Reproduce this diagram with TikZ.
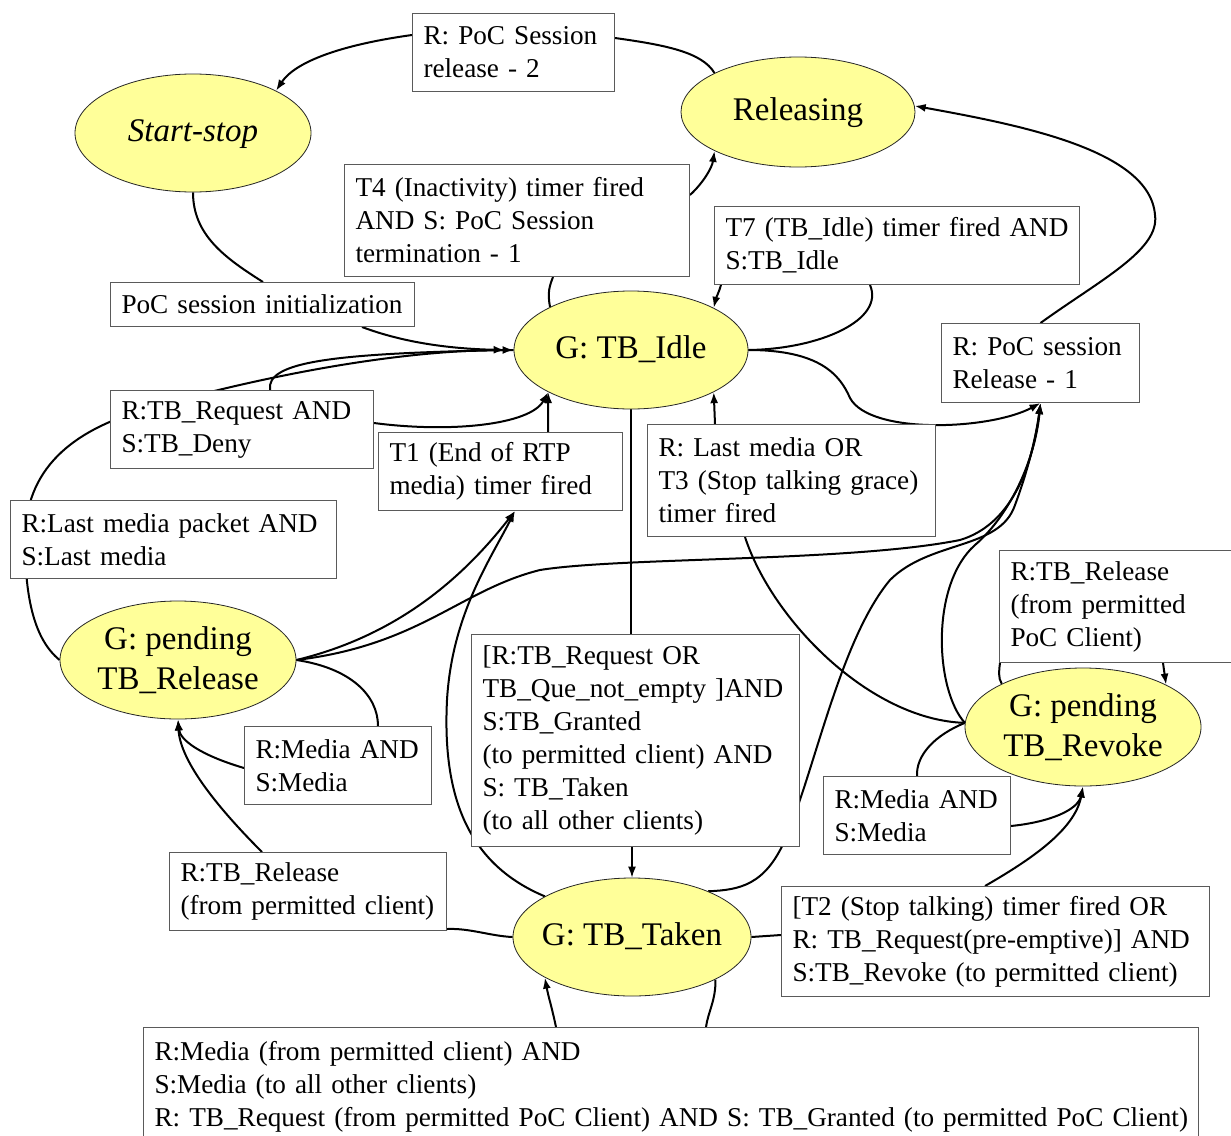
\documentclass[tikz,border=0pt]{standalone}
\usepackage{fontspec}
\setmainfont{Liberation Serif}
\usetikzlibrary{shapes.geometric,arrows.meta,calc}
\pgfdeclarelayer{bg}
\pgfsetlayers{bg,main}
\definecolor{stateyellow}{RGB}{255,255,153}
\definecolor{boxline}{RGB}{90,90,90}
\newcommand\boxfont{\fontsize{27.2}{33}\selectfont}
\newcommand\statefont{\fontsize{33}{40}\selectfont}
\tikzset{
  lbox/.style={draw=boxline, line width=1pt, fill=white, anchor=north west, align=left,
    inner xsep=11pt, inner ysep=0pt, font=\boxfont},
  state/.style={ellipse, draw=black!85, line width=0.8pt, fill=stateyellow, font=\statefont,
    align=center, inner sep=-14pt},
  conn/.style={line width=2pt},
  arr/.style={conn, -{Latex[length=11pt,width=8pt]}}
}
\begin{document}
\begin{tikzpicture}[x=1pt,y=-1pt]
\useasboundingbox (0,0) rectangle (1231,1135);
% states
\node[state, minimum width=236, minimum height=118] (startstop) at (193,133) {\itshape Start-stop\strut};
\node[state, minimum width=234, minimum height=110] (releasing) at (798,112) {Releasing\strut};
\node[state, minimum width=234, minimum height=118] (idle) at (631,350) {G: TB\_Idle\strut};
\node[state, minimum width=236, minimum height=118] (pendrel) at (178,660) {G: pending\\TB\_Release};
\node[state, minimum width=236, minimum height=118] (pendrev) at (1083,727) {G: pending\\TB\_Revoke};
\node[state, minimum width=238, minimum height=118] (taken) at (632,937) {G: TB\_Taken\strut};
% label boxes
\node[lbox, minimum width=202, minimum height=78, text width=180] (relsess2) at (412,13)
  {\mbox{R: PoC Session}\\\mbox{release - 2}};
\node[lbox, minimum width=345, minimum height=112, text width=323] (t4) at (344,164)
  {\mbox{T4 (Inactivity) timer fired}\\\mbox{AND S: PoC Session}\\\mbox{termination - 1}};
\node[lbox, minimum width=304, minimum height=44, text width=282] (init) at (110,282)
  {\mbox{PoC session initialization}};
\node[lbox, minimum width=365, minimum height=78, text width=343] (t7) at (714,206)
  {\mbox{T7 (TB\_Idle) timer fired AND}\\\mbox{S:TB\_Idle}};
\node[lbox, minimum width=198, minimum height=79, text width=176] (rel1) at (941,323)
  {\mbox{R: PoC session}\\\mbox{Release - 1}};
\node[lbox, minimum width=263, minimum height=78, text width=241] (deny) at (110,390)
  {\mbox{R:TB\_Request AND}\\\mbox{S:TB\_Deny}};
\node[lbox, minimum width=244, minimum height=78, text width=222] (t1) at (378,432)
  {\mbox{T1 (End of RTP}\\\mbox{media) timer fired}};
\node[lbox, minimum width=288, minimum height=112, text width=266] (t3) at (647,424)
  {\mbox{R: Last media OR}\\\mbox{T3 (Stop talking grace)}\\\mbox{timer fired}};
\node[lbox, minimum width=326, minimum height=78, text width=304] (lastpkt) at (10,500)
  {\mbox{R:Last media packet AND}\\\mbox{S:Last media}};
\node[lbox, minimum width=240, minimum height=112, text width=218] (tbrel2) at (999,550)
  {\mbox{R:TB\_Release}\\\mbox{(from permitted}\\\mbox{PoC Client)}};
\node[lbox, minimum width=328, minimum height=212, text width=306] (grant) at (471,634)
  {\mbox{[R:TB\_Request OR}\\\mbox{TB\_Que\_not\_empty ]AND}\\\mbox{S:TB\_Granted}\\\mbox{(to permitted client) AND}\\\mbox{S: TB\_Taken}\\\mbox{(to all other clients)}};
\node[lbox, minimum width=187, minimum height=78, text width=165] (mediaL) at (244,726)
  {\mbox{R:Media AND}\\\mbox{S:Media}};
\node[lbox, minimum width=187, minimum height=78, text width=165] (mediaR) at (823,776)
  {\mbox{R:Media AND}\\\mbox{S:Media}};
\node[lbox, minimum width=277, minimum height=78, text width=255] (tbrel1) at (169,852)
  {\mbox{R:TB\_Release}\\\mbox{(from permitted client)}};
\node[lbox, minimum width=428, minimum height=110, text width=406] (t2) at (781,886)
  {\mbox{[T2 (Stop talking) timer fired OR}\\\mbox{R: TB\_Request(pre-emptive)] AND}\\\mbox{S:TB\_Revoke (to permitted client)}};
\node[lbox, minimum width=1055, minimum height=118, text width=1033] (bottom) at (143,1027)
  {\mbox{R:Media (from permitted client) AND}\\\mbox{S:Media (to all other clients)}\\\mbox{R: TB\_Request (from permitted PoC Client) AND S: TB\_Granted (to permitted PoC Client)}};
% connectors
\begin{pgfonlayer}{bg}
\fill[white] (0,0) rectangle (1231,1135);
\draw[conn] (releasing.155) .. controls (702,52) and (665,45) .. ($(relsess2.north east)+(0,25)$);
\draw[arr] ($(relsess2.north west)+(0,22)$) .. controls (340,45) and (295,62) .. (startstop.27);
\draw[conn] (idle.152) .. controls (547,292) and (550,285) .. ($(t4.south west)+(209,0)$);
\draw[arr] ($(t4.north east)+(0,31)$) .. controls (703,183) and (712,168) .. (releasing.205);
\draw[conn] (startstop.south) .. controls (193,235) and (225,258) .. ($(init.north west)+(153,0)$);
\draw[arr] ($(init.south west)+(252,0)$) .. controls (410,345) and (460,349) .. ([xshift=-9pt]idle.west);
\draw[conn] (idle.east) .. controls (820,349) and (885,320) .. ($(t7.south west)+(156,0)$);
\draw[arr] ($(t7.south west)+(7,0)$) .. controls (719,292) and (716,298) .. (idle.27);
\draw[arr] (idle.east) .. controls (820,350) and (840,375) .. (850,398)
  .. controls (870,435) and (990,430) .. (rel1.south);
\draw[arr] (rel1.north) .. controls (1100,280) and (1160,250) .. (1155,215)
  .. controls (1150,150) and (1020,125) .. (releasing.3);
\draw[arr] (pendrel.180) .. controls (35,640) and (25,600) .. (25,540)
  .. controls (25,470) and (70,430) .. (150,408) .. controls (230,385) and (380,350) .. (idle.west);
\draw[conn] ($(deny.north west)+(160,0)$) .. controls (266,362) and (330,353) .. (idle.west);
\draw[arr] ($(deny.north east)+(0,33)$) .. controls (450,433) and (530,425) .. (idle.207);
\draw[arr] ($(t1.north west)+(170,0)$) -- (idle.207);
\draw[arr] (pendrel.east) .. controls (400,635) and (465,575) .. ($(t1.south west)+(137,0)$);
\draw[arr] (taken.155) .. controls (470,865) and (442,800) .. (447,700)
  .. controls (452,615) and (490,560) .. ($(t1.south west)+(137,0)$);
\draw[arr] (pendrel.east) .. controls (420,645) and (460,590) .. (540,570)
  .. controls (620,557) and (850,562) .. (960,540) .. controls (1010,525) and (1032,470) .. (rel1.south);
\draw[arr] (taken.31) .. controls (740,890) and (765,885) .. (785,840)
  .. controls (815,770) and (840,640) .. (890,580) .. controls (930,540) and (1000,550) .. (1015,505)
  .. controls (1030,465) and (1037,430) .. (rel1.south);
\draw[arr] (pendrev.178) .. controls (935,690) and (930,585) .. (975,545)
  .. controls (1010,515) and (1035,460) .. (rel1.south);
\draw[conn, line width=1.5pt] (idle.south) -- (idle.south |- grant.north);
\draw[arr, line width=1.5pt] (taken.north |- grant.south) -- (taken.north);
\draw[conn] ($(t3.south west)+(98,0)$) .. controls (772,620) and (870,720) .. (pendrev.178);
\draw[arr] ($(t3.north west)+(68,0)$) -- (idle.333);
\draw[conn] (pendrel.east) .. controls (350,668) and (378,695) .. ($(mediaL.north west)+(134,0)$);
\draw[arr] ($(mediaL.north west)+(0,42)$) .. controls (200,755) and (180,740) .. (pendrel.south);
\draw[conn] (taken.west) .. controls (490,936) and (470,928) .. ($(tbrel1.south east)+(0,-2)$);
\draw[arr] ($(tbrel1.north west)+(93,0)$) .. controls (215,805) and (180,760) .. (pendrel.south);
\draw[conn] (taken.333) .. controls (716,1000) and (708,1012) .. ($(bottom.north west)+(563,0)$);
\draw[arr] ($(bottom.north west)+(413,0)$) .. controls (552,1008) and (548,995) .. (taken.205);
\draw[conn] (taken.east) -- ($(t2.north west)+(0,49)$);
\draw[arr] ($(t2.north west)+(204,0)$) .. controls (1030,860) and (1075,830) .. (pendrev.south);
\draw[conn] (pendrev.178) .. controls (935,735) and (916,755) .. (mediaR.north);
\draw[arr] ($(mediaR.north east)+(0,50)$) .. controls (1050,822) and (1078,810) .. (pendrev.south);
\draw[conn] (pendrev.152) .. controls (998,678) and (999,670) .. ($(tbrel2.south west)+(1,0)$);
\draw[arr] ($(tbrel2.south west)+(164,0)$) -- (pendrev.27);
\end{pgfonlayer}
\end{tikzpicture}
\end{document}
